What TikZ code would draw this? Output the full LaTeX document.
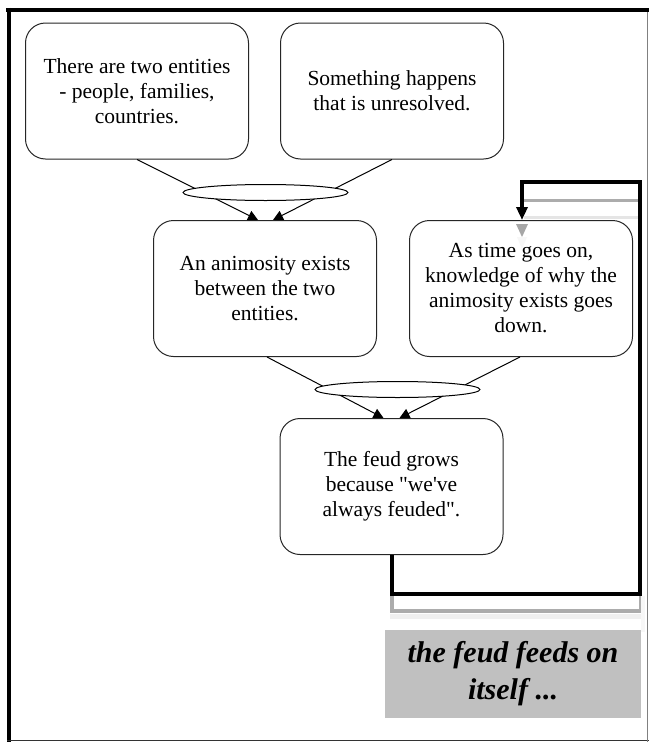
\documentclass[tikz,border=0pt]{standalone}
\usepackage{fontspec}
\setmainfont{Liberation Serif}[Ligatures=TeXOff]
\usetikzlibrary{arrows.meta,shapes.geometric,calc}
\definecolor{silverbox}{HTML}{C0C0C0}
\begin{document}
\begin{tikzpicture}[x=1pt,y=-1pt,
  box/.style={draw=black!85,line width=1pt,rounded corners=20pt,fill=white,
    minimum width=223pt,minimum height=136pt,align=center,inner sep=0pt,
    font=\fontsize{21.5}{25}\selectfont},
  hub/.style={ellipse,draw=black,line width=1pt,fill=white,
    minimum width=165pt,minimum height=16pt,inner sep=0pt},
  link/.style={line width=1pt,-{Triangle[length=10pt,width=10pt]}},
  loopline/.style={line width=4pt,line join=miter,-{Triangle[length=13pt,width=11pt]}},
  shade/.style={line width=3.5pt},
  frame/.style={line width=4.5pt},
  note/.style={fill=silverbox,minimum width=256pt,minimum height=88pt,inner sep=0pt,
    align=center,font=\fontsize{30}{37}\selectfont\bfseries\itshape},
]
\useasboundingbox (0,0) rectangle (649,742);

% outer frame
\draw[frame] (6,10) -- (649,10);
\draw[frame] (9,7.75) -- (9,742);
\draw[black!80,line width=1.5pt] (7,740.5) -- (649,740.5);
\draw[gray,line width=1pt] (647.5,12) -- (647.5,742);

% boxes
\node[box] (b1) at (137,91) {There are two entities\\- people, families,\\countries.};
\node[box] (b2) at (392,91) {Something happens\\that is unresolved.};
\node[box] (b3) at (265,288.5) {An animosity exists\\between the two\\entities.};
\node[box] (b4) at (521,288.5) {As time goes on,\\knowledge of why the\\animosity exists goes\\down.};
\node[box] (b5) at (391.5,486.5) {The feud grows\\because "we've\\always feuded".};

% connectors
\draw[link] (b1.south) -- ([xshift=-7pt]b3.north);
\draw[link] (b2.south) -- ([xshift=8pt]b3.north);
\draw[link] ([xshift=2pt]b3.south) -- ([xshift=-8pt]b5.north);
\draw[link] ([xshift=-1pt]b4.south) -- ([xshift=8pt]b5.north);
\node[hub] (e1) at (265.5,192.5) {};
\node[hub] (e2) at (397.5,389.5) {};

% feedback loop with its reflection
\coordinate (lr) at (640,594);
\coordinate (ur) at (640,182);
\draw[gray!65,shade] (392,596) -- (392,611) -- (641,611) -- (641,596);
\fill[gray!12] (390,613.5) rectangle (644,619);
\fill[gray!6] (641,596) rectangle (645,632);
\draw[gray!65,line width=3pt] (524,200) -- (642,200);
\draw[gray!20,line width=3pt] (524,217) -- (642,217);
\fill[gray!70] (516,224) -- (528,224) -- (522,237) -- cycle;
\fill[gray!6] (517,237) -- (527,237) -- (522,249) -- cycle;
\draw[loopline] ([xshift=0.5pt]b5.south) -- ([xshift=0.5pt]b5.south |- lr) -- (lr) -- (ur)
  -- ([xshift=1pt]b4.north |- ur) -- ([xshift=1pt]b4.north);

% caption box
\node[note] (t) at (513,674) {the feud feeds on\\itself ...};
\end{tikzpicture}
\end{document}
